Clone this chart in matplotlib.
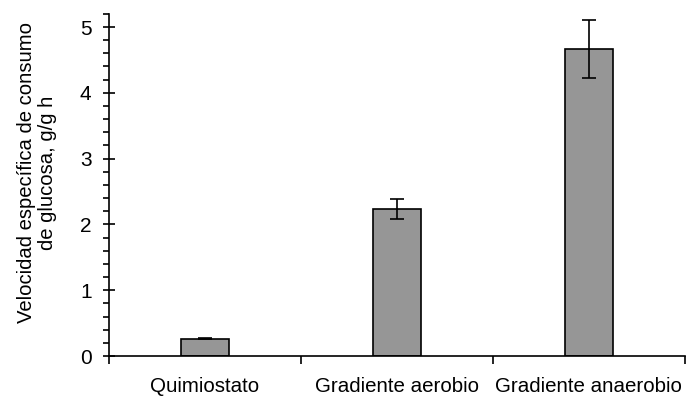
import matplotlib
matplotlib.use("Agg")
import matplotlib.pyplot as plt
from matplotlib.ticker import MultipleLocator, FixedLocator

categories = ["Quimiostato", "Gradiente aerobio", "Gradiente anaerobio"]
values = [0.263, 2.23, 4.66]
errors = [0.005, 0.15, 0.44]

plt.rcParams["font.family"] = ["Liberation Sans", "DejaVu Sans"]

fig = plt.figure(figsize=(6.89, 3.96), dpi=100)
ax = fig.add_axes([0.158, 0.101, 0.836, 0.864])

x = list(range(len(categories)))
ax.bar(x, values, width=0.25, color="#969696", edgecolor="black", linewidth=1.2,
       yerr=errors, capsize=5, error_kw=dict(elinewidth=1.2, capthick=1.2, ecolor="black"))

ax.set_xlim(-0.5, len(categories) - 0.5)
ax.set_ylim(0, 5.2)

for side in ("top", "right"):
    ax.spines[side].set_visible(False)
ax.spines["left"].set_linewidth(1.2)
ax.spines["bottom"].set_linewidth(1.2)

ax.yaxis.set_major_locator(MultipleLocator(1))
ax.yaxis.set_minor_locator(MultipleLocator(0.2))
ax.tick_params(axis="y", which="major", direction="inout", length=9, width=1.2,
               labelsize=15, pad=8)
ax.tick_params(axis="y", which="minor", direction="out", length=4.5, width=1.2)

ax.set_xticks(x)
ax.set_xticklabels(categories)
ax.xaxis.set_minor_locator(FixedLocator([i - 0.5 for i in range(len(categories) + 1)]))
ax.tick_params(axis="x", which="major", length=0, labelsize=14.8, pad=15)
ax.tick_params(axis="x", which="minor", direction="out", length=5.5, width=1.2)

ax.set_ylabel("Velocidad específica de consumo\nde glucosa, g/g h", fontsize=14.6,
              linespacing=1.15)
ax.yaxis.set_label_coords(-0.09, 0.535)

fig.savefig("out.png", dpi=100)
